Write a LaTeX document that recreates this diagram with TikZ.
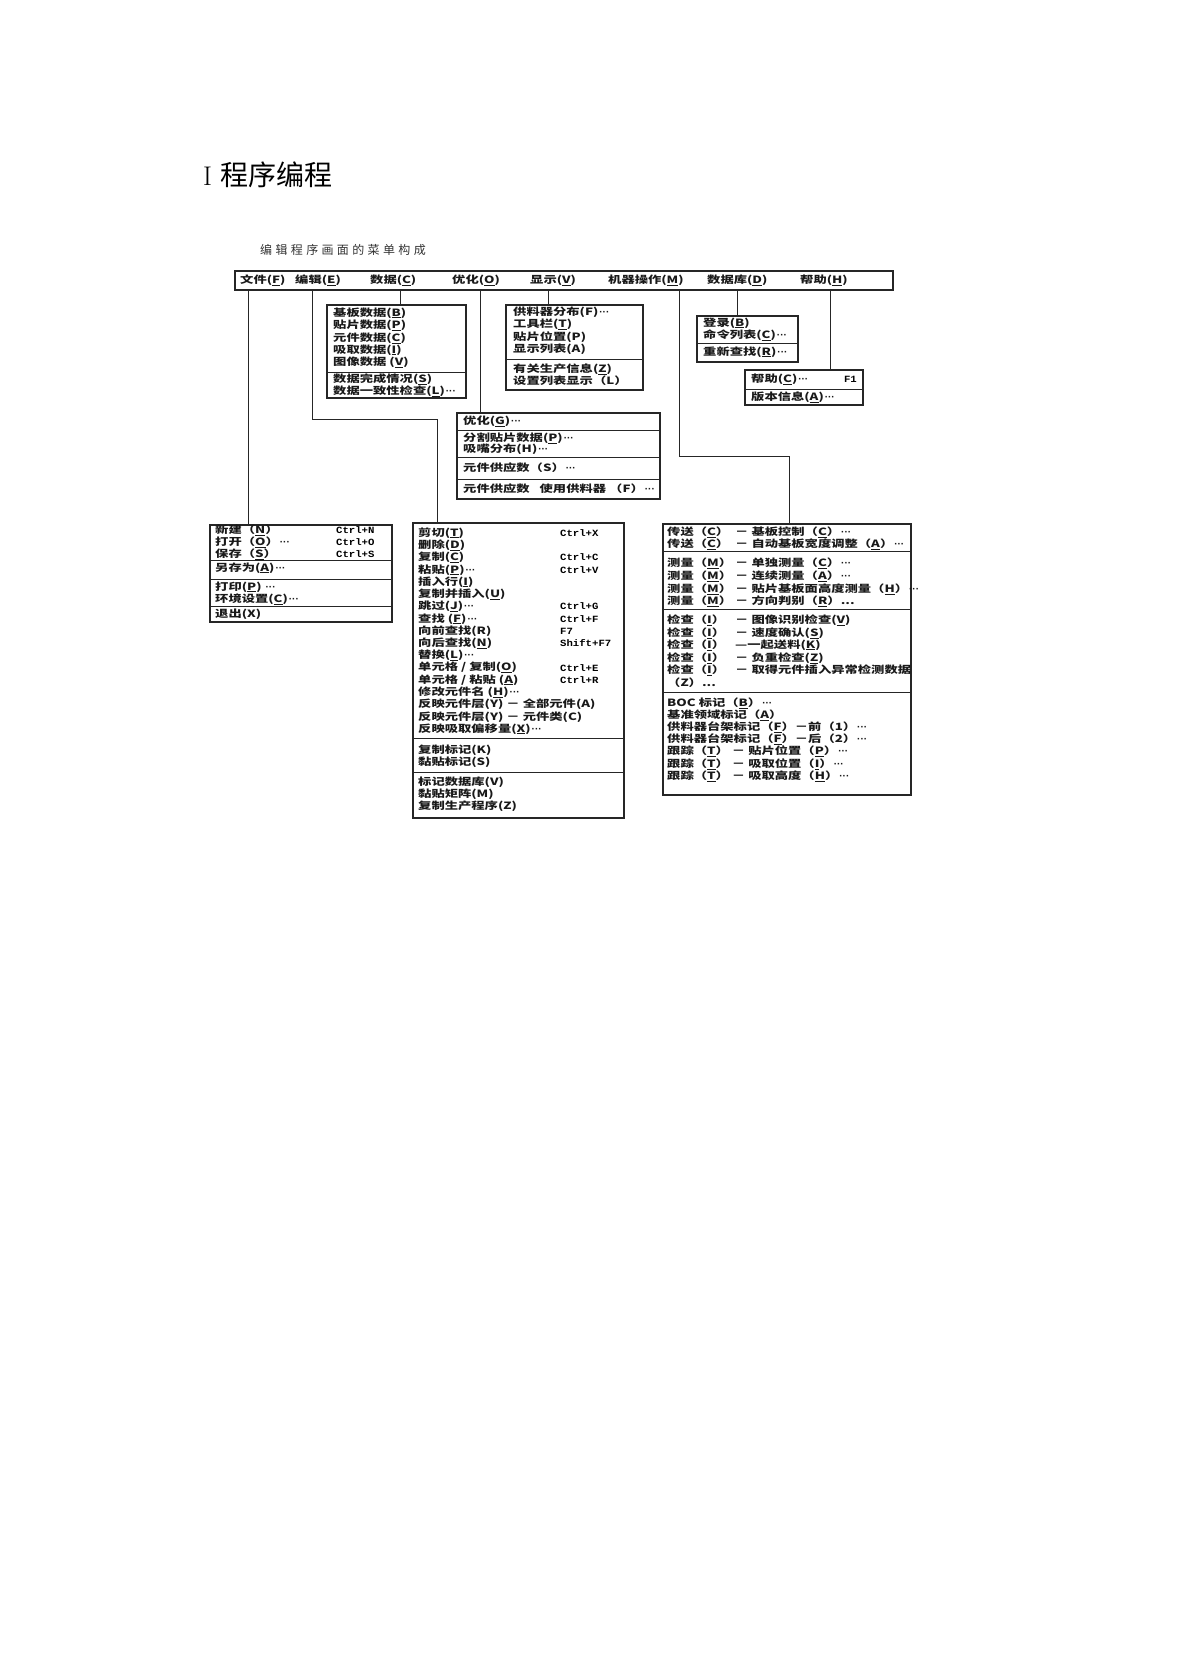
\documentclass[tikz,border=0pt]{standalone}
\usepackage{fontspec}
\newfontfamily\cjk[FakeStretch=1.33]{Noto Sans CJK SC}
\newfontfamily\cjkplain{Noto Sans CJK SC}
\newfontfamily\latin{Liberation Sans}
\newfontfamily\keyfont[FakeStretch=1.12]{Liberation Mono}
\newcommand\ulk[1]{\underline{#1}}
\newcommand\tdots{...}
\newcommand\mdots{{\latin\bfseries\kern1pt···}}
\tikzset{
  menubox/.style={draw=black!85, line width=1.2pt, fill=white,
                  inner sep=0pt, outer sep=0pt, anchor=north west},
  sepline/.style={draw=black!85, line width=1pt},
  link/.style={draw=black!85, line width=1pt},
  item/.style={anchor=west, inner sep=0pt, text=black!90,
               font=\cjk\bfseries\fontsize{10}{10}\selectfont},
  hotkey/.style={anchor=west, inner sep=0pt, text=black,
                 font=\keyfont\bfseries\fontsize{9.5}{10}\selectfont},
}
\begin{document}
\begin{tikzpicture}[x=1pt, y=-1pt]
  \useasboundingbox (0,0) rectangle (1185,1675);
  %% Headings
  \node[anchor=west, inner sep=0pt] (title) at (203,175)
    {{\fontsize{27}{28}\selectfont I}\hspace{8pt}{\cjkplain\fontsize{28}{30}\selectfont 程序编程}};
  \node[anchor=west, inner sep=0pt, text=black!80,
    font=\cjkplain\fontsize{12}{12}\selectfont\addfontfeature{LetterSpace=28}] (subtitle) at (260,250)
    {编辑程序画面的菜单构成};
  %% Menu bar
  \node[menubox, minimum width=658, minimum height=19] (bar) at (235,271) {};
  \foreach \x/\t [count=\i] in {240/文件(\ulk{F}), 295/编辑(\ulk{E}), 370/数据(\ulk{C}),
      452/优化(\ulk{O}), 530/显示(\ulk{V}), 608/机器操作(\ulk{M}),
      707/数据库(\ulk{D}), 800/帮助(\ulk{H})}
    \node[item] (bar\i) at (\x,280.5) {\t};
  %% Drop points under the bar
  \foreach \n/\x in {dFile/248, dEdit/312, dData/400, dOpt/480,
      dView/548, dMach/679, dBase/737, dHelp/830}
    \coordinate (\n) at (\x,290);
  \coordinate (kEdit) at (437,419);
  \coordinate (kMach) at (789,456);
  %% Menu boxes
  \node[menubox, minimum width=182, minimum height=97]  (filebox) at (210,525) {};
  \node[menubox, minimum width=139, minimum height=93]  (databox) at (327,305) {};
  \node[menubox, minimum width=137, minimum height=85]  (viewbox) at (506,305) {};
  \node[menubox, minimum width=203, minimum height=86]  (optbox)  at (457,413) {};
  \node[menubox, minimum width=101, minimum height=46]  (basebox) at (697,316) {};
  \node[menubox, minimum width=118, minimum height=35]  (helpbox) at (745,370) {};
  \node[menubox, minimum width=211, minimum height=295] (editbox) at (413,523) {};
  \node[menubox, minimum width=248, minimum height=271] (machbox) at (663,524) {};
  %% Separators
  \foreach \y in {560.5,579,606.5} \draw[sepline] (210,\y) -- ++(182,0);
  \draw[sepline] (327,372) -- ++(139,0);
  \draw[sepline] (506,359) -- ++(137,0);
  \foreach \y in {430,457,479} \draw[sepline] (457,\y) -- ++(203,0);
  \draw[sepline] (697,343) -- ++(101,0);
  \draw[sepline] (745,389) -- ++(118,0);
  \foreach \y in {738,772} \draw[sepline] (413,\y) -- ++(211,0);
  \foreach \y in {551,609,692} \draw[sepline] (663,\y) -- ++(248,0);
  %% Connectors
  \draw[link] (dFile) -- (dFile |- filebox.north);
  \draw[link] (dEdit) |- (kEdit) -- (kEdit |- editbox.north);
  \draw[link] (dData) -- (dData |- databox.north);
  \draw[link] (dOpt)  -- (dOpt |- optbox.north);
  \draw[link] (dView) -- (dView |- viewbox.north);
  \draw[link] (dMach) |- (kMach) -- (kMach |- machbox.north);
  \draw[link] (dBase) -- (dBase |- basebox.north);
  \draw[link] (dHelp) -- (dHelp |- helpbox.north);
  %% File menu
  \foreach \y/\t [count=\i] in {530.5/新建（\ulk{N}）, 542.5/打开（\ulk{O}）\mdots, 554/保存（\ulk{S}）,
      568/另存为(\ulk{A})\mdots, 587/打印(\ulk{P})\ \mdots, 599/环境设置(\ulk{C})\mdots, 614.5/退出(X)}
    \node[item] (file\i) at (215,\y) {\t};
  \foreach \y/\k [count=\i] in {530.5/Ctrl+N, 542.5/Ctrl+O, 554/Ctrl+S}
    \node[hotkey] (fkey\i) at (336,\y) {\k};
  %% Data menu
  \foreach \y/\t [count=\i] in {313/基板数据(\ulk{B}), 325.5/贴片数据(\ulk{P}), 338/元件数据(\ulk{C}),
      350/吸取数据(\ulk{I}), 362.5/图像数据\ (\ulk{V}), 379/数据完成情况(\ulk{S}),
      391/数据一致性检查(\ulk{L})\mdots}
    \node[item] (data\i) at (333,\y) {\t};
  %% View menu
  \foreach \y/\t [count=\i] in {312/供料器分布(F)\mdots, 324.5/工具栏(\ulk{T}), 337/贴片位置(P),
      349/显示列表(A), 369/有关生产信息(\ulk{Z}), 381/设置列表显示（L）}
    \node[item] (view\i) at (513,\y) {\t};
  %% Optimize menu
  \foreach \y/\t [count=\i] in {421.5/优化(\ulk{G})\mdots, 438.5/分割贴片数据(\ulk{P})\mdots, 449/吸嘴分布(H)\mdots,
      468/元件供应数（S）\mdots, 489/元件供应数\quad 使用供料器\ （F）\mdots}
    \node[item] (opt\i) at (463,\y) {\t};
  %% Database menu
  \foreach \y/\t [count=\i] in {323/登录(\ulk{B}), 335/命令列表(\ulk{C})\mdots, 352/重新查找(\ulk{R})\mdots}
    \node[item] (base\i) at (703,\y) {\t};
  %% Help menu
  \node[item] (help1) at (751,379.5) {帮助(\ulk{C})\mdots};
  \node[hotkey, anchor=east] (hkey1) at (857,379.5) {F1};
  \node[item] (help2) at (751,397) {版本信息(\ulk{A})\mdots};
  %% Edit menu
  \foreach \t [count=\i] in {剪切(\ulk{T}), 删除(\ulk{D}), 复制(\ulk{C}), 粘贴(\ulk{P})\mdots,
      插入行(\ulk{I}), 复制并插入(\ulk{U}), 跳过(\ulk{J})\mdots, 查找\ (\ulk{F})\mdots,
      向前查找(R), 向后查找(\ulk{N}), 替换(\ulk{L})\mdots, 单元格 / 复制(\ulk{O}),
      单元格 / 粘贴\ (\ulk{A}), 修改元件名\ (\ulk{H})\mdots, 反映元件层(Y)\ －\ 全部元件(A),
      反映元件层(Y)\ －\ 元件类(C), 反映吸取偏移量(\ulk{X})\mdots}
    \node[item] (edit\i) at (418,{533+12.25*(\i-1)}) {\t};
  \foreach \r/\k in {1/Ctrl+X, 3/Ctrl+C, 4/Ctrl+V, 7/Ctrl+G, 8/Ctrl+F,
      9/F7, 10/Shift+F7, 12/Ctrl+E, 13/Ctrl+R}
    \node[hotkey] (ekey\r) at (560,{533+12.25*(\r-1)}) {\k};
  \foreach \y/\t [count=\i] in {750/复制标记(K), 762/黏贴标记(S), 782/标记数据库(V),
      794/黏贴矩阵(M), 806/复制生产程序(Z)}
    \node[item] (mark\i) at (418,\y) {\t};
  %% Machine menu
  \foreach \y/\a/\b [count=\i] in {
      532/传送（\ulk{C}）/－ 基板控制（\ulk{C}）\mdots,
      544.5/传送（\ulk{C}）/－ 自动基板宽度调整（\ulk{A}）\mdots,
      563/测量（\ulk{M}）/－ 单独测量（\ulk{C}）\mdots,
      576/测量（\ulk{M}）/－ 连续测量（\ulk{A}）\mdots,
      589/测量（\ulk{M}）/－ 贴片基板面高度测量（\ulk{H}）\mdots,
      601/测量（\ulk{M}）/－ 方向判别（\ulk{R}）\tdots,
      620/检查（\ulk{I}）/－ 图像识别检查(\ulk{V}),
      633/检查（\ulk{I}）/－ 速度确认(\ulk{S}),
      645/检查（\ulk{I}）/—一起送料(\ulk{K}),
      658/检查（\ulk{I}）/－ 负重检查(\ulk{Z}),
      670/检查（\ulk{I}）/－ 取得元件插入异常检测数据}
    {
    \node[item] (mach\i) at (667,\y) {\a};
    \node[item] (macr\i) at (735,\y) {\b};
    }
  \foreach \y/\t [count=\i] in {683/（Z）\tdots, 703/BOC 标记（\ulk{B}）\mdots, 715/基准领域标记（\ulk{A}）,
      727/供料器台架标记（\ulk{F}）－前（1）\mdots, 739/供料器台架标记（\ulk{F}）－后（2）\mdots,
      751/跟踪（\ulk{T}）\ －\ 贴片位置（\ulk{P}）\mdots, 764/跟踪（\ulk{T}）\ －\ 吸取位置（\ulk{I}）\mdots,
      776/跟踪（\ulk{T}）\ －\ 吸取高度（\ulk{H}）\mdots}
    \node[item] (trac\i) at (667,\y) {\t};
\end{tikzpicture}
\end{document}
